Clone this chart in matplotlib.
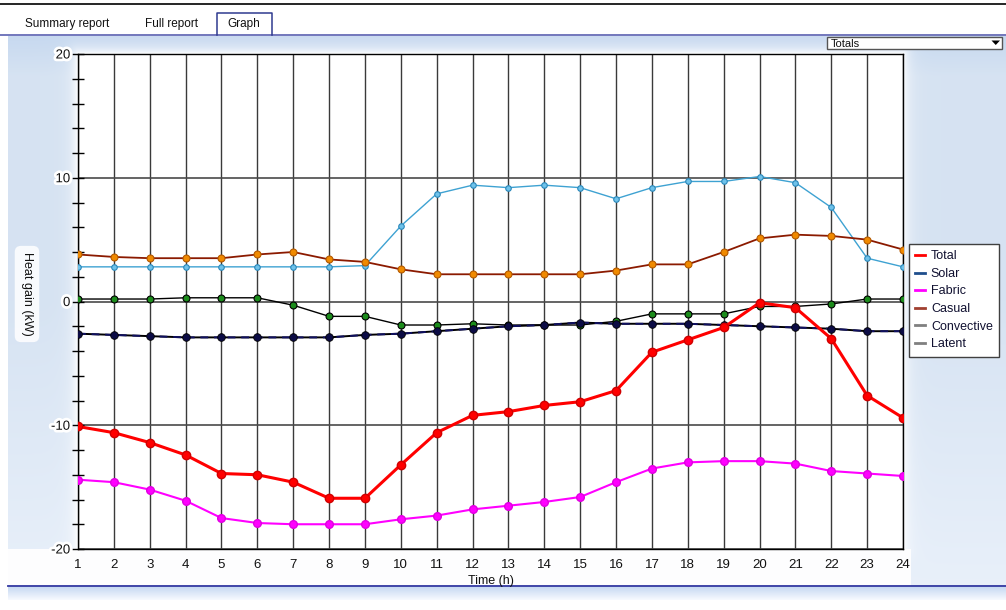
import numpy as np
import matplotlib
matplotlib.use("Agg")
import matplotlib.pyplot as plt
from matplotlib.lines import Line2D
from matplotlib.patches import Rectangle, Polygon
import matplotlib.patheffects as pe

plt.rcParams["font.family"] = ["Liberation Sans", "DejaVu Sans"]
plt.rcParams["axes.unicode_minus"] = False

# ---- data: hourly heat gains (kW) ----
hours = list(range(1, 25))
total = [-10.1, -10.6, -11.4, -12.4, -13.9, -14.0, -14.6, -15.9, -15.9, -13.2, -10.6, -9.2,
         -8.9, -8.4, -8.1, -7.2, -4.1, -3.1, -2.1, -0.1, -0.5, -3.0, -7.6, -9.4]
solar = [2.8, 2.8, 2.8, 2.8, 2.8, 2.8, 2.8, 2.8, 2.9, 6.1, 8.7, 9.4,
         9.2, 9.4, 9.2, 8.3, 9.2, 9.7, 9.7, 10.1, 9.6, 7.6, 3.5, 2.8]
fabric = [-14.4, -14.6, -15.2, -16.1, -17.5, -17.9, -18.0, -18.0, -18.0, -17.6, -17.3, -16.8,
          -16.5, -16.2, -15.8, -14.6, -13.5, -13.0, -12.9, -12.9, -13.1, -13.7, -13.9, -14.1]
casual = [3.8, 3.6, 3.5, 3.5, 3.5, 3.8, 4.0, 3.4, 3.2, 2.6, 2.2, 2.2,
          2.2, 2.2, 2.2, 2.5, 3.0, 3.0, 4.0, 5.1, 5.4, 5.3, 5.0, 4.2]
convective = [0.2, 0.2, 0.2, 0.3, 0.3, 0.3, -0.3, -1.2, -1.2, -1.9, -1.9, -1.8,
              -1.9, -1.9, -1.9, -1.6, -1.0, -1.0, -1.0, -0.4, -0.4, -0.2, 0.2, 0.2]
latent = [-2.6, -2.7, -2.8, -2.9, -2.9, -2.9, -2.9, -2.9, -2.7, -2.6, -2.4, -2.2,
          -2.0, -1.9, -1.7, -1.8, -1.8, -1.8, -1.9, -2.0, -2.1, -2.2, -2.4, -2.4]

series_names = ["Total", "Solar", "Fabric", "Casual", "Convective", "Latent"]
y_major = [-20, -10, 0, 10, 20]
y_minor = [-18, -16, -14, -12, -8, -6, -4, -2, 2, 4, 6, 8, 12, 14, 16, 18]
view_options = ["Totals"]
tab_names = ["Summary report", "Full report", "Graph"]

W, H = 1006, 610
fig = plt.figure(figsize=(W / 100, H / 100), dpi=100)
fig.patch.set_facecolor("white")

# ---- window chrome drawn in pixel coordinates ----
bg = fig.add_axes([0, 0, 1, 1], zorder=0)
bg.set_xlim(0, W)
bg.set_ylim(H, 0)
bg.axis("off")

L, R, T, B = 78, 903, 54, 549  # plotting area in pixels

px0, px1, py0, py1 = 8, W, 36, 586
xs = np.arange(px0, px1) + 0.5
ys = np.arange(py0, py1) + 0.5
X, Y = np.meshgrid(xs, ys)
top_c = np.array([0.78, 0.85, 0.94])
mid_c = np.array([0.84, 0.89, 0.95])
low_c = np.array([0.91, 0.94, 0.98])
t = np.clip((Y - py0) / 40.0, 0, 1)[..., None]
col = top_c * (1 - t) + mid_c * t
t2 = np.clip((Y - 300) / 280.0, 0, 1)[..., None]
col = col * (1 - t2) + low_c * t2
dx = np.maximum(np.maximum(L - X, X - R), 0)
dy = np.maximum(np.maximum(T - Y, Y - B), 0)
glow = np.exp(-np.hypot(dx, dy) / 6.0)
under = (Y > B) & (X < R + 8)
glow = np.where(under, np.maximum(glow, 0.92), glow)
col = col * (1 - glow[..., None]) + glow[..., None]
bg.imshow(col, extent=(px0, px1, py1, py0), aspect="auto", interpolation="bilinear")

# bottom strip
sy = np.arange(587, 600) + 0.5
st = np.clip((sy - 587) / 13.0, 0, 1)[:, None, None]
strip = np.array([0.78, 0.85, 0.95]) * (1 - st) + np.array([0.97, 0.98, 1.0]) * st
strip = np.repeat(strip, 10, axis=1)
bg.imshow(strip, extent=(px0, W, 600, 587), aspect="auto", interpolation="bilinear")
bg.plot([px0, W], [586, 586], color="#2F36A0", lw=1.3)

# top rule and tab strip
bg.plot([0, W], [4, 4], color="black", lw=1.2)
bg.plot([0, W], [35, 35], color="#5A60B0", lw=1.2)
bg.add_patch(Rectangle((217, 13), 55, 22.5, facecolor="white", edgecolor="none"))
bg.plot([217, 217, 272, 272], [35, 13, 13, 35], color="#2F3A8F", lw=1.1)
bg.text(67, 23.5, tab_names[0], fontsize=8.5, ha="center", va="center", color="#111111")
bg.text(172, 23.5, tab_names[1], fontsize=8.5, ha="center", va="center", color="#111111")
bg.text(244, 23.5, tab_names[2], fontsize=8.5, ha="center", va="center", color="#111111")

# view selector
bg.add_patch(Rectangle((827, 36.5), 175, 12.5, facecolor="white", edgecolor="#555555",
                       lw=1, zorder=1))
bg.text(831, 47, view_options[0], fontsize=8, ha="left", va="baseline", color="#111111",
        zorder=5)
bg.add_patch(Polygon([[991.5, 40.5], [1000, 40.5], [995.75, 45]], closed=True,
                     facecolor="black", edgecolor="none", zorder=5))

# ---- chart ----
ax = fig.add_axes([L / W, 1 - B / H, (R - L) / W, (B - T) / H], zorder=2)
ax.set_facecolor("white")
ax.set_xlim(1, 24)
ax.set_ylim(-20, 20)
ax.set_xticks(hours)
ax.set_xticklabels([str(h) for h in hours])
ax.set_yticks(y_major)
ax.set_yticks(y_minor, minor=True)
ax.tick_params(axis="x", length=0, pad=7, labelsize=9.5, labelcolor="#111111")
ax.tick_params(axis="y", which="both", direction="inout", length=8, width=1,
               labelsize=9.5, pad=1.5, labelcolor="#111111")
for lab in ax.get_yticklabels():
    lab.set_path_effects([pe.withStroke(linewidth=4, foreground="white")])
ax.grid(axis="x", color="#3a3a3a", lw=1.0)
ax.grid(axis="y", which="major", color="#4a4a4a", lw=1.2)
for s in ax.spines.values():
    s.set_color("black")
    s.set_linewidth(1.0)

ax.set_xlabel("Time (h)", fontsize=9, labelpad=3, color="#111111")
fig.text(27 / W, 1 - 294 / H, "Heat gain (kW)", rotation=270, ha="center", va="center",
         fontsize=9, color="#111111",
         bbox=dict(boxstyle="round,pad=0.5", facecolor="white", edgecolor="none", alpha=0.85))

ax.plot(hours, solar, color="#3EA2D2", lw=1.0, marker="o", ms=4,
        mfc="#6FC2EA", mec="#2B88BB", mew=0.8, zorder=3)
ax.plot(hours, casual, color="#8B1A00", lw=1.3, marker="o", ms=5,
        mfc="#F08A00", mec="#B45A00", mew=0.8, zorder=3)
ax.plot(hours, convective, color="black", lw=1.0, marker="o", ms=5,
        mfc="#1C8C1C", mec="black", mew=0.8, zorder=3)
ax.plot(hours, latent, color="black", lw=1.4, zorder=3)
ax.plot(hours, latent, color="#101060", lw=1.4, ls=(0, (4, 3)), marker="o", ms=5.5,
        mfc="#0C0C45", mec="black", mew=0.6, zorder=3)
ax.plot(hours, fabric, color="#FF00FF", lw=1.5, marker="o", ms=5.5,
        mfc="#FF00FF", mec="#E000E0", zorder=4)
ax.plot(hours, total, color="#FF0000", lw=2.2, marker="o", ms=6,
        mfc="#FF0000", mec="#D00000", zorder=5)

legend_colors = ["#FF0000", "#1F4E8C", "#FF00FF", "#A04030", "#808080", "#808080"]
handles = [Line2D([], [], color=c, lw=2) for c in legend_colors]
leg = fig.legend(handles, series_names, loc="upper left",
                 bbox_to_anchor=(909 / W, 1 - 244 / H), borderaxespad=0,
                 frameon=True, fancybox=False, edgecolor="#404040", framealpha=1,
                 fontsize=9, handlelength=0.75, handletextpad=0.5,
                 labelspacing=0.45, borderpad=0.5, labelcolor="#101030")
leg.get_frame().set_linewidth(1.0)

fig.savefig("out.png", dpi=100)
